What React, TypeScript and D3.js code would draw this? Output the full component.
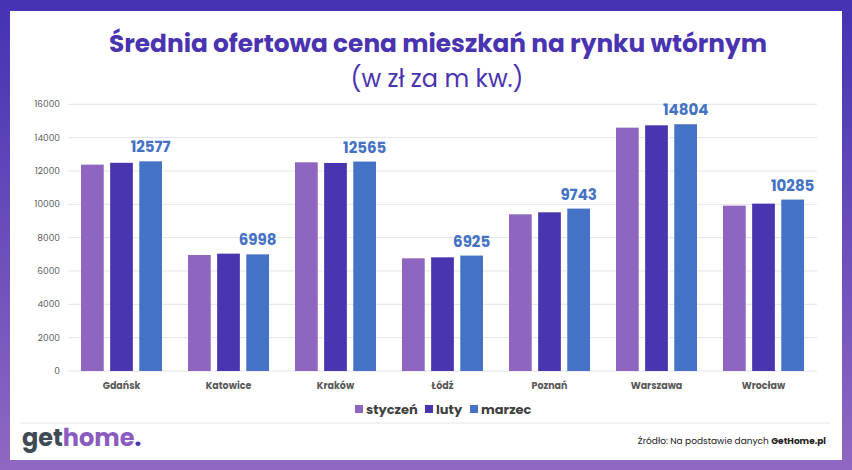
import React, { useEffect } from "react";
import * as d3 from "d3";

const cities = ["Gdańsk", "Katowice", "Kraków", "Łódź", "Poznań", "Warszawa", "Wrocław"];
const months = ["styczeń", "luty", "marzec"];
const styczen = [12380, 6960, 12520, 6760, 9400, 14600, 9920];
const luty = [12490, 7040, 12480, 6820, 9520, 14740, 10040];
const marzec = [12577, 6998, 12565, 6925, 9743, 14804, 10285];
const yTicks = [0, 2000, 4000, 6000, 8000, 10000, 12000, 14000, 16000];
const colors = ["#8e66c0", "#4a35b0", "#4472c4"];

const W = 852;
const H = 470;
const font = "Poppins, 'Open Sans', Lato, sans-serif";

export default function App() {
  useEffect(() => {
    document.body.style.margin = "0";
  }, []);

  const series = [styczen, luty, marzec];
  const x = d3.scaleBand().domain(cities).range([68, 817]);
  const x1 = d3.scaleBand().domain(months).range([0, 81]).paddingInner(0.22);
  const y = d3.scaleLinear().domain([0, 16000]).range([371, 104.3]);
  const groupOffset = (x.bandwidth() - 81) / 2;
  // legend square positions
  const legendX = [355, 425, 470];

  return (
    <svg width={W} height={H} style={{ display: "block" }}>
      <defs>
        <linearGradient id="frame" x1="0" y1="0" x2="0" y2="1">
          <stop offset="0" stopColor="#4432b3" />
          <stop offset="1" stopColor="#8f68c2" />
        </linearGradient>
      </defs>
      <rect x={0} y={0} width={W} height={H} fill="url(#frame)" />
      <rect x={10} y={11} width={832} height={449} fill="#ffffff" />

      <text x={438} y={52} textAnchor="middle" fontFamily={font} fontWeight={700} fontSize={24.8} fill="#4a33b0">
        Średnia ofertowa cena mieszkań na rynku wtórnym
      </text>
      <text x={437} y={87} textAnchor="middle" fontFamily={font} fontSize={24} fill="#4a33b0">
        (w zł za m kw.)
      </text>

      {yTicks.map((t) => (
        <g key={t}>
          <line x1={68} x2={817} y1={y(t)} y2={y(t)} stroke="#e4e4e4" strokeWidth={1} />
          <text x={60} y={y(t) + 3} textAnchor="end" fontFamily={font} fontSize={9} fill="#595959">
            {t}
          </text>
        </g>
      ))}

      {cities.map((c, i) => (
        <g key={c} transform={`translate(${(x(c) as number) + groupOffset},0)`}>
          {series.map((s, j) => (
            <rect
              key={j}
              x={x1(months[j])}
              y={y(s[i])}
              width={x1.bandwidth()}
              height={y(0) - y(s[i])}
              fill={colors[j]}
            />
          ))}
          <text
            x={(x1("marzec") as number) + x1.bandwidth() / 2}
            y={y(marzec[i]) - 9}
            textAnchor="middle"
            fontFamily={font}
            fontWeight={700}
            fontSize={15}
            fill="#4472c4"
          >
            {marzec[i]}
          </text>
        </g>
      ))}

      {cities.map((c) => (
        <text
          key={c}
          x={(x(c) as number) + x.bandwidth() / 2}
          y={389}
          textAnchor="middle"
          fontFamily={font}
          fontWeight={700}
          fontSize={9.5}
          fill="#595959"
        >
          {c}
        </text>
      ))}

      <g fontFamily={font} fontWeight={700} fontSize={13} fill="#404040">
        {months.map((m, j) => (
          <g key={m}>
            <rect x={legendX[j]} y={405} width={8} height={8} fill={colors[j]} />
            <text x={legendX[j] + 11} y={414}>
              {m}
            </text>
          </g>
        ))}
      </g>

      <line x1={20} x2={830} y1={423} y2={423} stroke="#e4e4e4" strokeWidth={1} />

      <text x={22} y={446} fontFamily={font} fontWeight={700} fontSize={24}>
        <tspan fill="#3f4a55">get</tspan>
        <tspan fill="#8a5cc0">home</tspan>
        <tspan fill="#4534b3">.</tspan>
      </text>

      <text x={826} y={444} textAnchor="end" fontFamily={font} fontSize={9} fill="#222">
        Źródło: Na podstawie danych <tspan fontWeight={700}>GetHome.pl</tspan>
      </text>
    </svg>
  );
}
